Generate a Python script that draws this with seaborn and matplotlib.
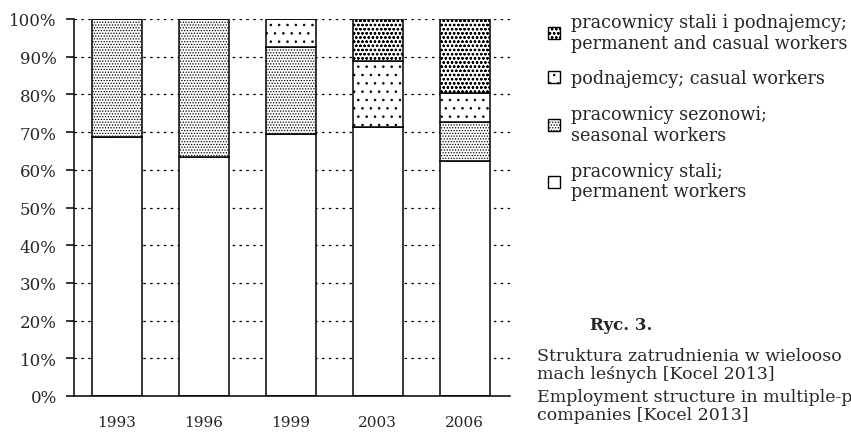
import matplotlib
matplotlib.use("Agg")
import matplotlib.pyplot as plt
from matplotlib.patches import Patch
import seaborn as sns

# employment structure, % of workers
years = ["1993", "1996", "1999", "2003", "2006"]
permanent = [68.8, 63.4, 69.6, 71.3, 62.3]
seasonal = [31.2, 36.6, 22.9, 0.0, 10.3]
casual = [0.0, 0.0, 7.5, 17.6, 7.7]
perm_and_casual = [0.0, 0.0, 0.0, 11.1, 19.7]

series_labels = [
    "pracownicy stali;\npermanent workers",
    "pracownicy sezonowi;\nseasonal workers",
    "podnajemcy; casual workers",
    "pracownicy stali i podnajemcy;\npermanent and casual workers",
]
hatches = ["", "......", "..", "oooo"]

sns.set_theme(style="white")
plt.rcParams["font.family"] = ["DejaVu Serif"]
plt.rcParams["hatch.linewidth"] = 0.6

fig = plt.figure(figsize=(8.51, 4.39), dpi=100)
ax = fig.add_axes([74 / 851, 42 / 439, 436 / 851, 377 / 439])

bottom = [0.0] * len(years)
for vals, h in zip([permanent, seasonal, casual, perm_and_casual], hatches):
    sns.barplot(x=years, y=vals, bottom=bottom, color="white", edgecolor="black",
                linewidth=1.1, hatch=h, width=0.575, errorbar=None, ax=ax)
    bottom = [b + v for b, v in zip(bottom, vals)]

ax.set_ylim(0, 100)
ax.set_xlim(-0.49, 4.52)
ax.set_yticks(range(0, 101, 10))
ax.set_yticklabels([f"{t}%" for t in range(0, 101, 10)])
ax.tick_params(axis="y", length=5.5, width=1.1, color="black", pad=7, labelsize=12, direction="out", left=True)
ax.tick_params(axis="x", length=0, pad=14, labelsize=11)
ax.yaxis.grid(True, linestyle=(0, (2, 3.5)), color="black", linewidth=0.9)
ax.set_axisbelow(True)
ax.set_xlabel("")
ax.set_ylabel("")
for s in ["top", "right"]:
    ax.spines[s].set_visible(False)
for s in ["left", "bottom"]:
    ax.spines[s].set_color("black")
    ax.spines[s].set_linewidth(1.1)

handles = [Patch(facecolor="white", edgecolor="black", hatch=h, linewidth=1.0) for h in hatches]
fig.legend(handles[::-1], series_labels[::-1], loc="upper left",
           bbox_to_anchor=(548 / 851, 1 - 14 / 439), frameon=False, fontsize=12.7,
           handlelength=0.7, handleheight=0.7, handletextpad=0.6,
           labelspacing=1.0, borderpad=0, borderaxespad=0)

fig.text(590 / 851, 1 - 325 / 439, "Ryc. 3.", fontsize=12, fontweight="bold", va="center")
fig.text(537 / 851, 1 - 348 / 439,
         "Struktura zatrudnienia w wielooso\nmach leśnych [Kocel 2013]",
         fontsize=12.5, va="top", linespacing=1.1)
fig.text(537 / 851, 1 - 389 / 439,
         "Employment structure in multiple-p\ncompanies [Kocel 2013]",
         fontsize=12.5, va="top", linespacing=1.1)

fig.savefig("out.png", dpi=100)
